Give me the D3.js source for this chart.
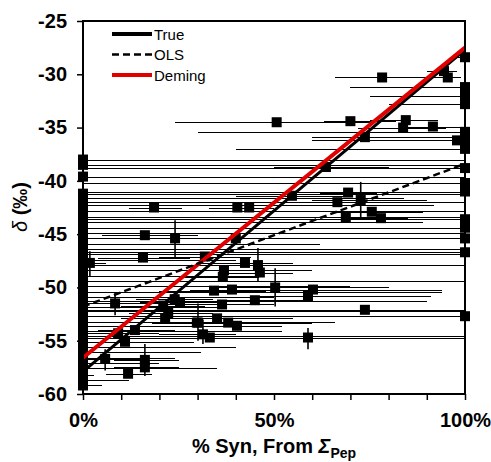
<!DOCTYPE html>
<html>
<head>
<meta charset="utf-8">
<script src="https://cdn.jsdelivr.net/npm/d3@7"></script>
<style>
  body { margin: 0; background: #fff; }
  svg { display: block; font-family: "Liberation Sans", Arial, sans-serif; }
</style>
</head>
<body>
<svg id="chart" width="491" height="462"></svg>
<script>
// points sitting on the 0% edge: y value and right end of x error bar (%)
const leftY   = [-38.0, -38.5, -39.6, -41.2, -41.6, -42.0, -42.3, -42.8, -43.4, -43.9, -44.4, -44.9, -45.4, -45.9,
                 -46.4, -46.9, -47.4, -47.9, -48.4, -48.9, -49.4, -49.9, -50.4, -50.9, -51.3, -51.8, -52.2, -52.7,
                 -53.2, -53.6, -54.1, -54.6, -55.1, -55.6, -56.1, -56.6, -57.1, -57.6, -58.2, -58.7, -59.2];
const leftXHi = [100, 100, 100, 100, 84, 100, 92, 100, 100, 89, 100, 100, 100, 62,
                 100, 100, 40, 100, 60, 45, 100, 70, 94, 50, 90, 35, 100, 55,
                 66, 45, 52, 100, 29, 40, 31, 24, 20, 35, 3, 12, 5];

// points sitting on the 100% edge: y value and left end of x error bar (%)
const rightY   = [-28.4, -31.2, -32.0, -32.8, -35.4, -36.2, -37.0, -38.8, -40.2, -41.0, -43.6, -44.4, -45.4, -46.7, -52.7];
const rightXLo = [98, 70, 75, 80, 30, 60, 40, 0, 0, 0, 0, 0, 0, 0, 0];

// interior points
const midX = [18.6, 40.4, 43.5, 50.7, 70.0, 78.3, 94.5, 95.5, 84.5, 83.8, 91.6, 73.8, 97.9, 63.6, 54.7, 69.4,
              66.6, 72.7, 68.8, 75.6, 78.0, 40.0, 16.2, 24.1, 15.7, 1.8, 31.9, 36.9, 42.4, 45.8, 36.6, 46.3,
              34.3, 39.0, 50.3, 60.2, 58.9, 45.0, 36.4, 35.1, 38.0, 40.3, 30.1, 33.2, 31.4, 58.9, 8.4, 21.0,
              22.3, 25.4, 24.0, 21.5, 9.2, 11.0, 13.6, 5.8, 11.8, 16.2, 16.2, 29.8, 73.8];
const midY = [-42.5, -42.5, -42.5, -34.5, -34.4, -30.3, -29.7, -30.3, -34.3, -35.0, -34.9, -35.9, -36.2, -38.7, -41.4, -41.1,
              -42.0, -41.8, -43.4, -42.9, -43.5, -45.4, -45.1, -45.4, -47.2, -47.7, -47.1, -48.4, -47.7, -47.9, -49.0, -48.6,
              -50.3, -50.2, -50.0, -50.2, -50.8, -51.2, -51.6, -52.9, -53.3, -53.6, -53.3, -54.7, -54.4, -54.7, -51.5, -51.7,
              -52.4, -51.4, -51.1, -52.9, -54.3, -55.1, -54.0, -56.7, -58.1, -56.8, -57.5, -53.3, -52.1];
const midXErr = [[12, 26], [33, 48], [37, 50], [24, 75], [63, 82], [66, 99], [90, 98], [92, 99], [75, 93], [72, 95], [85, 99], [60, 100], [90, 100], [50, 80], [40, 70], [62, 77],
                 [55, 84], [60, 90], [58, 80], [66, 89], [70, 85], [28, 55], [5, 30], [10, 38], [4, 28], [0, 6], [20, 44], [26, 48], [30, 55], [35, 57], [25, 46], [38, 55],
                 [20, 48], [28, 52], [35, 80], [45, 94], [44, 91], [35, 60], [22, 50], [20, 55], [25, 60], [28, 52], [18, 42], [22, 45], [20, 40], [0, 100], [0, 20], [10, 32],
                 [12, 34], [15, 36], [14, 34], [10, 30], [0, 20], [2, 22], [4, 24], [0, 15], [6, 18], [8, 25], [8, 25], [18, 40], [0, 100]];
const midYErr = {17: [-40.1, -43.6], 23: [-43.7, -47.3], 25: [-46.6, -49.0], 29: [-46.3, -49.4], 34: [-48.2, -51.8],
                 42: [-51.5, -55.0], 44: [-53.0, -55.3], 45: [-53.8, -55.8], 46: [-50.5, -52.6], 55: [-55.8, -57.8], 57: [-55.3, -58.3]};

// fitted lines: value at 0% and 100%
const fitNames = ["True", "OLS", "Deming"];
const fitStart = [-57.9, -51.8, -56.6];
const fitEnd   = [-27.7, -38.4, -27.5];

const yTicks = [-60, -55, -50, -45, -40, -35, -30, -25];
const xTicks = [0, 10, 20, 30, 40, 50, 60, 70, 80, 90, 100];
const xLabelled = {0: "0%", 50: "50%", 100: "100%"};

const svg = d3.select("#chart");
const margin = {top: 21, right: 26, bottom: 68, left: 83};
const W = 491, H = 462;

const x = d3.scaleLinear().domain([0, 100]).range([margin.left, W - margin.right]);
const y = d3.scaleLinear().domain([-60, -25]).range([H - margin.bottom, margin.top]);

// build point records
const points = [];
leftY.forEach((v, i) => points.push({x: 0, y: v, lo: 0, hi: leftXHi[i]}));
rightY.forEach((v, i) => points.push({x: 100, y: v, lo: rightXLo[i], hi: 100}));
midX.forEach((v, i) => points.push({x: v, y: midY[i], lo: midXErr[i][0], hi: midXErr[i][1], ye: midYErr[i]}));

const plot = svg.append("g");

// error bars
plot.append("g").selectAll("line")
    .data(points)
    .enter()
    .append("line")
    .attr("x1", d => x(d.lo))
    .attr("x2", d => x(d.hi))
    .attr("y1", d => Math.round(y(d.y)) + 0.5)
    .attr("y2", d => Math.round(y(d.y)) + 0.5)
    .attr("shape-rendering", "crispEdges")
    .style("stroke", "#000")
    .style("stroke-width", 1);

plot.append("g").selectAll("line")
    .data(points.filter(d => d.ye))
    .enter()
    .append("line")
    .attr("x1", d => x(d.x))
    .attr("x2", d => x(d.x))
    .attr("y1", d => y(d.ye[0]))
    .attr("y2", d => y(d.ye[1]))
    .style("stroke", "#000")
    .style("stroke-width", 1.6);

// squares
const sq = 10;
plot.append("g").selectAll("rect")
    .data(points)
    .enter()
    .append("rect")
    .attr("x", d => x(d.x) - sq / 2)
    .attr("y", d => y(d.y) - sq / 2)
    .attr("width", sq)
    .attr("height", sq)
    .attr("fill", "#000");

// fit lines
const fitStyle = {
    "True":   {stroke: "#000", width: 3, dash: null},
    "OLS":    {stroke: "#000", width: 2.5, dash: "7,4"},
    "Deming": {stroke: "#e00000", width: 4, dash: null}
};
const order = [0, 2, 1];
order.forEach(i => {
    const s = fitStyle[fitNames[i]];
    plot.append("line")
        .attr("x1", x(0)).attr("y1", y(fitStart[i]))
        .attr("x2", x(100)).attr("y2", y(fitEnd[i]))
        .style("stroke", s.stroke)
        .style("stroke-width", s.width)
        .style("stroke-dasharray", s.dash);
});

// axes
const yAxis = svg.append("g")
    .attr("transform", `translate(${margin.left},0)`)
    .call(d3.axisLeft(y).tickValues(yTicks).tickSize(6).tickPadding(10).tickFormat(d => d));
const xAxis = svg.append("g")
    .attr("transform", `translate(0,${H - margin.bottom})`)
    .call(d3.axisBottom(x).tickValues(xTicks).tickSize(6).tickPadding(13).tickFormat(d => xLabelled[d] || ""));

[yAxis, xAxis].forEach(a => {
    a.select(".domain").remove();
    a.selectAll(".tick line").style("stroke", "#000").style("stroke-width", 1.5);
    a.selectAll(".tick text")
        .style("font-family", "'Liberation Sans', Arial, sans-serif")
        .style("font-size", "20px")
        .style("font-weight", "bold")
        .style("fill", "#000");
});

// frame
svg.append("rect")
    .attr("x", x(0)).attr("y", y(-25))
    .attr("width", x(100) - x(0))
    .attr("height", y(-60) - y(-25))
    .attr("fill", "none")
    .style("stroke", "#000")
    .style("stroke-width", 2);

// legend
const legend = svg.append("g").attr("transform", "translate(112,34)");
fitNames.forEach((name, i) => {
    const s = fitStyle[name];
    const g = legend.append("g").attr("transform", `translate(0,${i * 20.5})`);
    g.append("line")
        .attr("x1", 0).attr("x2", 40)
        .style("stroke", s.stroke)
        .style("stroke-width", name === "OLS" ? 2.5 : 4)
        .style("stroke-dasharray", s.dash);
    g.append("text")
        .attr("x", 42)
        .attr("y", 5.5)
        .style("font-size", "15px")
        .style("fill", "#000")
        .text(name);
});

// axis titles
const xt = svg.append("text")
    .attr("x", x(50))
    .attr("y", 453)
    .attr("text-anchor", "middle")
    .style("font-size", "20px")
    .style("font-weight", "bold");
xt.append("tspan").text("% Syn, From ");
xt.append("tspan").style("font-style", "italic").text("Σ");
xt.append("tspan").attr("dy", 5).style("font-size", "14px").text("Pep");

const yt = svg.append("text")
    .attr("transform", `translate(27,${207}) rotate(-90)`)
    .attr("text-anchor", "middle")
    .style("font-size", "20px")
    .style("font-weight", "bold");
yt.append("tspan").style("font-style", "italic").style("font-weight", "normal").text("δ");
yt.append("tspan").text(" (‰)");
</script>
</body>
</html>
